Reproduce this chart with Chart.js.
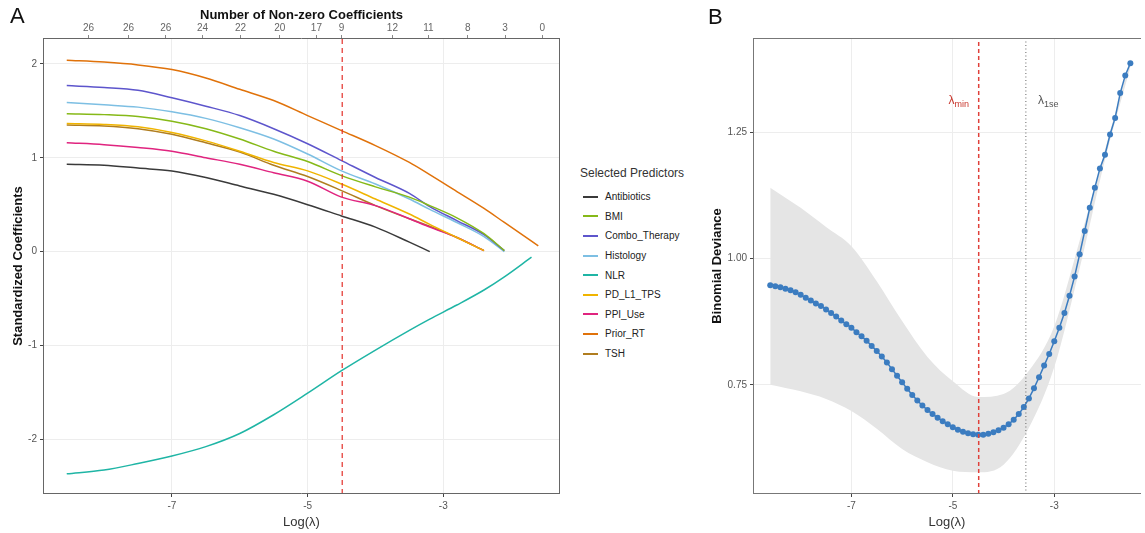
<!DOCTYPE html>
<html>
<head>
<meta charset="utf-8">
<script src="https://cdn.jsdelivr.net/npm/chart.js@4.4.1/dist/chart.umd.min.js"></script>
<style>
  body { margin: 0; background: #fff; font-family: "Liberation Sans", Arial, sans-serif; }
  #wrap { position: relative; width: 1145px; height: 533px; overflow: hidden; background: #fff; }
  canvas { position: absolute; top: 0; }
  #chartA { left: 0; }
  #chartB { left: 700px; }
  .tag { position: absolute; font-size: 22px; color: #111; line-height: 1; }
  #legend { position: absolute; left: 580px; top: 166px; color: #222; }
  #legend .ttl { font-size: 12px; color: #333; height: 21px; }
  #legend .row { height: 19.6px; display: flex; align-items: center; font-size: 10px; }
  #legend .key { width: 15px; height: 2px; margin: 0 7px 0 3px; }
  .lam { position: absolute; font-size: 12px; line-height: 1; }
  .lam sub { font-size: 9px; vertical-align: -3px; }
</style>
</head>
<body>
<div id="wrap">
  <canvas id="chartA" width="565" height="533"></canvas>
  <canvas id="chartB" width="445" height="533"></canvas>
  <div class="tag" style="left:10px; top:5px;">A</div>
  <div class="tag" style="left:708px; top:6px;">B</div>
  <div id="legend"><div class="ttl">Selected Predictors</div></div>
  <div class="lam" style="right:176px; top:94px; color:#c8372d;">λ<sub>min</sub></div>
  <div class="lam" style="left:1038px; top:94px; color:#555;">λ<sub>1se</sub></div>
</div>
<script>
// ---- panel A: coefficient paths ----
const logLambdaA = [-8.55, -8.0, -7.5, -7.0, -6.5, -6.0, -5.5, -5.0, -4.5, -4.0, -3.5, -3.2, -2.8, -2.4, -2.1, -1.7, -1.6];

const antibiotics = [0.93, 0.92, 0.89, 0.86, 0.79, 0.70, 0.61, 0.50, 0.38, 0.26, 0.10, 0.0, null, null, null, null, null];
const bmi         = [1.47, 1.46, 1.44, 1.39, 1.31, 1.20, 1.07, 0.96, 0.81, 0.69, 0.58, 0.49, 0.36, 0.19, 0.01, null, null];
const comboTher   = [1.77, 1.75, 1.72, 1.64, 1.55, 1.45, 1.31, 1.15, 0.97, 0.79, 0.62, 0.48, 0.33, 0.18, 0.01, null, null];
const histology   = [1.59, 1.565, 1.54, 1.49, 1.42, 1.32, 1.20, 1.04, 0.86, 0.72, 0.56, 0.45, 0.31, 0.16, 0.0, null, null];
const nlr         = [-2.37, -2.33, -2.26, -2.18, -2.08, -1.94, -1.74, -1.51, -1.27, -1.05, -0.84, -0.72, -0.57, -0.41, -0.27, -0.06, null];
const pdl1Tps     = [1.365, 1.355, 1.33, 1.27, 1.18, 1.07, 0.95, 0.86, 0.72, 0.56, 0.40, 0.29, 0.15, 0.01, null, null, null];
const ppiUse      = [1.16, 1.14, 1.11, 1.07, 1.00, 0.93, 0.84, 0.75, 0.58, 0.49, 0.35, 0.26, 0.15, 0.01, null, null, null];
const priorRT     = [2.04, 2.02, 1.99, 1.94, 1.85, 1.73, 1.61, 1.45, 1.29, 1.13, 0.95, 0.82, 0.64, 0.46, 0.31, 0.11, 0.06];
const tsh         = [1.35, 1.34, 1.31, 1.25, 1.16, 1.06, 0.92, 0.80, 0.65, 0.49, 0.35, 0.27, 0.15, 0.01, null, null, null];

// top axis: number of non-zero coefficients
const topTickPos    = [-8.23, -7.64, -7.09, -6.55, -5.99, -5.41, -4.87, -4.50, -3.75, -3.22, -2.64, -2.09, -1.54];
const topTickLabels = ['26', '26', '26', '24', '22', '20', '17', '9', '12', '11', '8', '3', '0'];
const xTicks = [-7, -5, -3];
const yTicksA = [-2, -1, 0, 1, 2];

const lambdaMin = -4.49;
const lambda1se = -3.56;

// ---- panel B: cross-validation curve ----
const logLambdaB = [-8.6, -8.5, -8.4, -8.3, -8.2, -8.1, -8.0, -7.9, -7.8, -7.7, -7.6, -7.5, -7.4, -7.3, -7.2, -7.1,
  -7.0, -6.9, -6.8, -6.7, -6.6, -6.5, -6.4, -6.3, -6.2, -6.1, -6.0, -5.9, -5.8, -5.7, -5.6, -5.5, -5.4, -5.3, -5.2, -5.1,
  -5.0, -4.9, -4.8, -4.7, -4.6, -4.5, -4.4, -4.3, -4.2, -4.1, -4.0, -3.9, -3.8, -3.7, -3.6, -3.5, -3.4, -3.3, -3.2, -3.1,
  -3.0, -2.9, -2.8, -2.7, -2.6, -2.5, -2.4, -2.3, -2.2, -2.1, -2.0, -1.9, -1.8, -1.7, -1.6, -1.5];
const deviance = [0.947, 0.945, 0.943, 0.940, 0.937, 0.933, 0.928, 0.922, 0.917, 0.911, 0.906, 0.899, 0.892, 0.885, 0.877, 0.870,
  0.863, 0.854, 0.846, 0.837, 0.827, 0.817, 0.806, 0.794, 0.781, 0.768, 0.755, 0.742, 0.730, 0.719, 0.709, 0.700, 0.692, 0.685, 0.678, 0.672,
  0.666, 0.661, 0.657, 0.654, 0.652, 0.651, 0.651, 0.653, 0.656, 0.660, 0.665, 0.672, 0.681, 0.692, 0.706, 0.723, 0.743, 0.765, 0.788, 0.811,
  0.836, 0.863, 0.892, 0.926, 0.964, 1.008, 1.054, 1.100, 1.140, 1.178, 1.205, 1.245, 1.278, 1.327, 1.362, 1.386];
const bandLogLambda = [-8.6, -8.0, -7.5, -7.0, -6.5, -6.0, -5.5, -5.0, -4.5, -4.0, -3.5, -3.0, -2.5, -2.0, -1.5];
const devianceUpper = [1.14, 1.10, 1.062, 1.024, 0.955, 0.876, 0.805, 0.757, 0.726, 0.732, 0.778, 0.866, 1.035, 1.215, 1.395];
const devianceLower = [0.75, 0.737, 0.722, 0.698, 0.663, 0.623, 0.597, 0.580, 0.577, 0.592, 0.665, 0.785, 0.980, 1.195, 1.378];
const yTicksB = [0.75, 1.00, 1.25];

const predictors = [
  { name: 'Antibiotics',   values: antibiotics, color: '#3a3a3a' },
  { name: 'BMI',           values: bmi,         color: '#86b918' },
  { name: 'Combo_Therapy', values: comboTher,   color: '#5d55cc' },
  { name: 'Histology',     values: histology,   color: '#7dbfe3' },
  { name: 'NLR',           values: nlr,         color: '#1fb5a5' },
  { name: 'PD_L1_TPS',     values: pdl1Tps,     color: '#f0b400' },
  { name: 'PPI_Use',       values: ppiUse,      color: '#e0247f' },
  { name: 'Prior_RT',      values: priorRT,     color: '#e0720a' },
  { name: 'TSH',           values: tsh,         color: '#b07d1f' }
];

const FONT = '"Liberation Sans", Arial, sans-serif';
Chart.defaults.font.family = FONT;

function toPoints(xs, ys) {
  return xs.map((x, i) => ({ x: x, y: ys[i] })).filter(p => p.y !== null);
}

// draw the panel border around the chart area
const frame = {
  id: 'frame',
  afterDatasetsDraw(chart, args, opts) {
    const a = chart.chartArea;
    const ctx = chart.ctx;
    ctx.save();
    ctx.lineWidth = 1;
    ctx.strokeStyle = opts.color || '#555';
    ctx.beginPath();
    const sides = opts.sides || ['top', 'right', 'bottom', 'left'];
    if (sides.includes('top'))    { ctx.moveTo(a.left, a.top + 0.5); ctx.lineTo(a.right, a.top + 0.5); }
    if (sides.includes('right'))  { ctx.moveTo(a.right - 0.5, a.top); ctx.lineTo(a.right - 0.5, a.bottom); }
    if (sides.includes('bottom')) { ctx.moveTo(a.left, a.bottom - 0.5); ctx.lineTo(a.right, a.bottom - 0.5); }
    if (sides.includes('left'))   { ctx.moveTo(a.left + 0.5, a.top); ctx.lineTo(a.left + 0.5, a.bottom); }
    ctx.stroke();
    ctx.restore();
  }
};

const tickFont = { size: 10, family: FONT };
const titleFont = { size: 13, family: FONT };

// ---- chart A ----
const yMinA = -2.585, yMaxA = 2.277;
const dsA = predictors.map(p => ({
  label: p.name,
  data: toPoints(logLambdaA, p.values),
  borderColor: p.color,
  borderWidth: 1.5,
  showLine: true,
  pointRadius: 0,
  cubicInterpolationMode: 'monotone'
}));
dsA.unshift({
  label: 'lambda.min',
  data: [{ x: lambdaMin, y: yMinA }, { x: lambdaMin, y: yMaxA }],
  borderColor: '#e3312b',
  borderWidth: 1.2,
  borderDash: [5, 4],
  showLine: true,
  pointRadius: 0
});

new Chart(document.getElementById('chartA'), {
  type: 'scatter',
  data: { datasets: dsA },
  options: {
    responsive: false,
    animation: false,
    layout: { padding: { left: 0, right: 5, top: 0, bottom: 0 } },
    plugins: {
      legend: { display: false },
      tooltip: { enabled: false },
      frame: { color: '#666' }
    },
    scales: {
      x: {
        type: 'linear', position: 'bottom', min: -8.90, max: -1.28,
        afterBuildTicks: s => { s.ticks = xTicks.map(v => ({ value: v })); },
        afterFit: s => { s.height = 39; },
        grid: { color: '#ededed', tickColor: '#444', tickLength: 3 },
        border: { display: false },
        ticks: { font: tickFont, color: '#555', padding: 3, maxRotation: 0 },
        title: { display: true, text: 'Log(λ)', font: titleFont, color: '#333', padding: { top: 0, bottom: 3 } }
      },
      x2: {
        type: 'linear', position: 'top', min: -8.90, max: -1.28,
        afterBuildTicks: s => { s.ticks = topTickPos.map(v => ({ value: v })); },
        afterFit: s => { s.height = 38; },
        grid: { drawOnChartArea: false, tickColor: '#888', tickLength: 3 },
        border: { display: false },
        ticks: {
          font: tickFont, color: '#666', padding: 1, maxRotation: 0, autoSkip: false,
          callback: (v, i) => topTickLabels[i]
        },
        title: { display: true, text: 'Number of Non-zero Coefficients', font: { size: 13, weight: 'bold', family: FONT }, color: '#111', padding: { top: 8, bottom: 0 } }
      },
      y: {
        type: 'linear', min: yMinA, max: yMaxA,
        afterBuildTicks: s => { s.ticks = yTicksA.map(v => ({ value: v })); },
        afterFit: s => { s.width = 43; },
        grid: { color: '#ededed', tickColor: '#444', tickLength: 3 },
        border: { display: false },
        ticks: { font: tickFont, color: '#555', padding: 3 },
        title: { display: true, text: 'Standardized Coefficients', font: { size: 13, weight: 'bold', family: FONT }, color: '#111', padding: { top: 11, bottom: 0 } }
      }
    }
  },
  plugins: [frame]
});

// HTML legend for panel A
const legend = document.getElementById('legend');
predictors.forEach(p => {
  const row = document.createElement('div');
  row.className = 'row';
  row.innerHTML = '<span class="key" style="background:' + p.color + '"></span>' + p.name;
  legend.appendChild(row);
});

// ---- chart B ----
const yMinB = 0.534, yMaxB = 1.436;
new Chart(document.getElementById('chartB'), {
  type: 'scatter',
  data: {
    datasets: [
      {
        label: 'lambda.min',
        data: [{ x: lambdaMin, y: yMinB }, { x: lambdaMin, y: yMaxB }],
        borderColor: '#e0403a', borderWidth: 1.5, borderDash: [4, 3],
        showLine: true, pointRadius: 0
      },
      {
        label: 'lambda.1se',
        data: [{ x: lambda1se, y: yMinB }, { x: lambda1se, y: yMaxB }],
        borderColor: '#666', borderWidth: 1, borderDash: [1, 2.5],
        showLine: true, pointRadius: 0
      },
      {
        label: 'Binomial Deviance',
        data: toPoints(logLambdaB, deviance),
        borderColor: '#3b7cc0', borderWidth: 1.5,
        backgroundColor: '#3b7cc0', pointBorderWidth: 0,
        pointRadius: 3, showLine: true, tension: 0
      },
      {
        label: 'upper',
        data: toPoints(bandLogLambda, devianceUpper),
        borderWidth: 0, borderColor: 'rgba(0,0,0,0)', pointRadius: 0,
        showLine: true, cubicInterpolationMode: 'monotone', fill: '+1', backgroundColor: '#e5e5e5'
      },
      {
        label: 'lower',
        data: toPoints(bandLogLambda, devianceLower),
        borderWidth: 0, borderColor: 'rgba(0,0,0,0)', pointRadius: 0,
        showLine: true, cubicInterpolationMode: 'monotone', fill: false
      }
    ]
  },
  options: {
    responsive: false,
    animation: false,
    layout: { padding: { left: 0, right: 0, top: 38, bottom: 0 } },
    plugins: {
      legend: { display: false },
      tooltip: { enabled: false },
      frame: { color: '#777', sides: ['top', 'bottom', 'left'] }
    },
    scales: {
      x: {
        type: 'linear', position: 'bottom', min: -8.94, max: -1.29,
        afterBuildTicks: s => { s.ticks = xTicks.map(v => ({ value: v })); },
        afterFit: s => { s.height = 39; },
        grid: { color: '#ededed', tickColor: '#444', tickLength: 3 },
        border: { display: false },
        ticks: { font: tickFont, color: '#555', padding: 3, maxRotation: 0 },
        title: { display: true, text: 'Log(λ)', font: titleFont, color: '#333', padding: { top: 0, bottom: 3 } }
      },
      y: {
        type: 'linear', min: yMinB, max: yMaxB,
        afterBuildTicks: s => { s.ticks = yTicksB.map(v => ({ value: v })); },
        afterFit: s => { s.width = 53; },
        grid: { color: '#ededed', tickColor: '#444', tickLength: 3 },
        border: { display: false },
        ticks: { font: tickFont, color: '#555', padding: 3, callback: v => Number(v).toFixed(2) },
        title: { display: true, text: 'Binomial Deviance', font: { size: 13, weight: 'bold', family: FONT }, color: '#111', padding: { top: 10, bottom: 0 } }
      }
    }
  },
  plugins: [frame]
});
</script>
</body>
</html>
